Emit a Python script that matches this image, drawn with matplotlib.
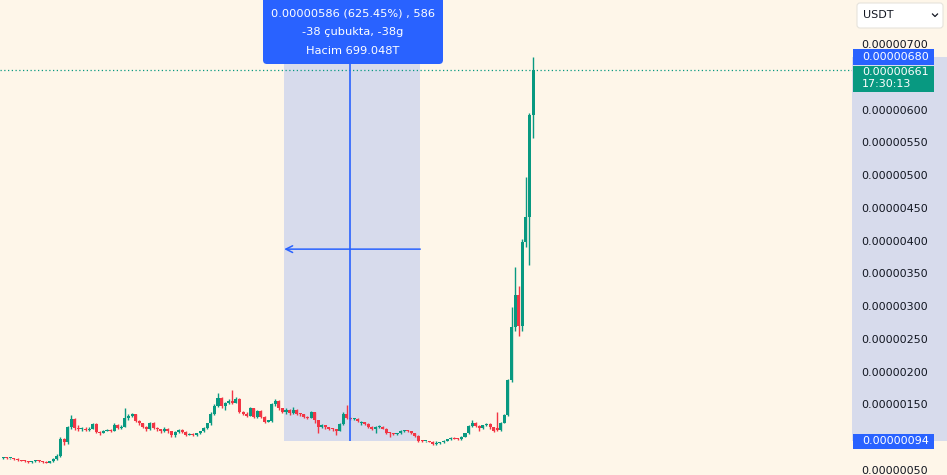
import matplotlib
matplotlib.use("Agg")
import matplotlib.pyplot as plt
from matplotlib.patches import Rectangle, FancyBboxPatch
from matplotlib.ticker import FuncFormatter
import matplotlib.transforms as mtransforms

# Prices in units of 1e-8 USDT (0.00000700 == 700)
opens = [68, 69, 68, 68, 67, 65, 64, 63, 62, 63, 64, 63, 62, 61, 63, 67, 72, 98, 93, 115,
         128, 114, 112, 113, 111, 113, 120, 108, 107, 110, 111, 110, 119, 114, 116, 129, 133, 135, 125, 121,
         116, 112, 122, 114, 112, 109, 113, 109, 103, 108, 111, 108, 104, 105, 103, 106, 109, 114, 121, 136,
         148, 160, 147, 152, 156, 153, 159, 139, 136, 133, 144, 131, 140, 131, 124, 125, 150, 156, 144, 139,
         141, 137, 141, 136, 135, 131, 130, 138, 126, 116, 118, 115, 113, 112, 110, 120, 136, 130, 128, 128,
         121, 123, 120, 116, 112, 116, 116, 113, 107, 106, 105, 106, 110, 110, 109, 106, 102, 95, 94, 94,
         93, 90, 91, 92, 95, 97, 99, 98, 97, 101, 106, 117, 122, 117, 114, 118, 120, 115, 114, 111,
         122, 134, 187, 268, 317, 270, 398, 436, 592]
closes = [69, 68, 68, 67, 65, 64, 63, 62, 63, 64, 63, 62, 61, 63, 67, 72, 98, 93, 115, 128,
          114, 112, 113, 111, 113, 120, 108, 107, 110, 111, 110, 119, 114, 116, 129, 133, 135, 125, 121, 116,
          112, 122, 114, 112, 109, 113, 109, 103, 108, 111, 108, 104, 105, 103, 106, 109, 114, 121, 136, 148,
          160, 147, 152, 156, 153, 159, 139, 136, 133, 144, 131, 140, 131, 124, 125, 150, 156, 144, 139, 141,
          137, 141, 136, 135, 131, 130, 138, 126, 116, 118, 115, 113, 112, 110, 120, 136, 130, 128, 128, 125,
          123, 120, 116, 112, 116, 116, 113, 107, 106, 105, 106, 110, 110, 109, 106, 102, 95, 94, 94, 93,
          90, 91, 92, 95, 97, 99, 98, 97, 101, 106, 117, 122, 117, 114, 118, 120, 115, 110, 111, 122,
          134, 187, 268, 317, 270, 398, 436, 592, 661]
highs = [70, 70, 69, 69, 68, 66, 65, 64, 64, 66, 65, 64, 63, 64, 68, 74, 100, 99, 117, 134,
         129, 118, 115, 116, 115, 122, 121, 110, 111, 113, 112, 121, 120, 118, 145, 135, 137, 136, 126, 122,
         117, 124, 124, 116, 113, 115, 114, 110, 109, 113, 112, 109, 107, 106, 107, 110, 116, 122, 138, 150,
         167, 161, 154, 158, 172, 161, 160, 140, 138, 146, 145, 142, 141, 132, 127, 152, 158, 157, 145, 145,
         143, 146, 143, 137, 136, 133, 140, 139, 127, 120, 119, 116, 114, 113, 121, 138, 149, 131, 130, 129,
         125, 124, 121, 117, 117, 118, 117, 114, 108, 107, 107, 111, 111, 111, 110, 107, 103, 96, 95, 95,
         94, 95, 93, 96, 98, 101, 100, 99, 102, 107, 118, 126, 123, 118, 119, 121, 121, 116, 138, 123,
         136, 189, 298, 360, 330, 402, 497, 595, 680]
lows = [67, 67, 67, 66, 64, 63, 62, 61, 61, 62, 62, 61, 60, 60, 62, 66, 70, 88, 90, 112,
        111, 110, 110, 109, 110, 112, 106, 104, 106, 109, 108, 109, 112, 113, 115, 127, 131, 123, 119, 114,
        109, 111, 112, 110, 106, 108, 107, 101, 101, 107, 106, 102, 103, 102, 102, 105, 108, 113, 119, 134,
        146, 145, 141, 150, 151, 152, 137, 134, 131, 132, 129, 130, 129, 121, 123, 124, 148, 142, 137, 136,
        134, 136, 134, 132, 129, 128, 129, 121, 106, 114, 113, 111, 110, 104, 109, 119, 128, 126, 126, 124,
        119, 118, 114, 111, 107, 114, 112, 105, 100, 104, 104, 105, 108, 108, 105, 100, 93, 92, 93, 92,
        88, 88, 90, 91, 94, 96, 97, 96, 96, 100, 105, 116, 115, 110, 113, 117, 113, 108, 109, 110,
        121, 133, 185, 262, 255, 262, 390, 363, 557]

y_ticks = [50, 150, 200, 250, 300, 350, 400, 450, 500, 550, 600, 700]
measure_start, measure_end = 78.5, 116.5
measure_low, measure_high = 94, 680
crosshair_bar = 97
last_price = 661
tooltip_lines = ["0.00000586 (625.45%) , 586", "-38 çubukta, -38g", "Hacim 699.048T"]
countdown = "17:30:13"
currency = "USDT"

BG = "#fef6e9"
GREEN = "#089981"
RED = "#f23645"
BLUE = "#2962ff"
TXT = "#131722"
FS = 8

plt.rcParams['font.family'] = ['DejaVu Sans']

fig = plt.figure(figsize=(9.47, 4.75), dpi=100, facecolor=BG)
ax = fig.add_axes([0, 0, 852 / 947, 1])
ax.set_facecolor(BG)
for s in ax.spines.values():
    s.set_visible(False)

ax.set_xlim(-0.894, 237.1)
ax.set_ylim(42.4, 767.1)
ax.set_xticks([])
ax.yaxis.tick_right()
ax.set_yticks(y_ticks)
ax.yaxis.set_major_formatter(FuncFormatter(lambda v, p: f"{v * 1e-8:.8f}"))
ax.tick_params(axis='y', length=0, pad=7.0, labelsize=FS, labelcolor=TXT)

# measurement rectangle
ax.add_patch(Rectangle((measure_start, measure_low), measure_end - measure_start,
                       measure_high - measure_low, facecolor=BLUE, alpha=0.18,
                       edgecolor='none', zorder=1))
blend = mtransforms.blended_transform_factory(ax.transAxes, ax.transData)
ax.add_patch(Rectangle((1.0, measure_low), 947 / 852 - 1.0, measure_high - measure_low,
                       transform=blend, facecolor=BLUE, alpha=0.18, edgecolor='none',
                       clip_on=False, zorder=1))

# candles
for i, (o, h, l, c) in enumerate(zip(opens, highs, lows, closes)):
    col = GREEN if c >= o else RED
    ax.vlines(i, l, h, color=col, lw=1.0, zorder=3)
    body = max(abs(c - o), 1.6)
    ax.bar(i, body, bottom=min(o, c), width=0.85, color=col, edgecolor='none', zorder=3)

# crosshair & arrow
ax.vlines(crosshair_bar, measure_low, measure_high, color=BLUE, lw=1.2, zorder=4)
mid = (measure_low + measure_high) / 2
ax.annotate('', xy=(measure_start, mid), xytext=(measure_end, mid),
            arrowprops=dict(arrowstyle='->', color=BLUE, lw=1.1, shrinkA=0, shrinkB=0,
                            mutation_scale=12), zorder=4)

# last price dotted line
ax.axhline(last_price, color=GREEN, lw=0.9, ls=(0, (1, 2)), zorder=2)

# price-scale labels
px = 1.5258  # data units per pixel
box_x0, box_x1 = 1.001, 934 / 852
ax.add_patch(Rectangle((box_x0, measure_high - 8 * px), box_x1 - box_x0, 16 * px,
                       transform=blend, facecolor=BLUE, edgecolor='none', clip_on=False, zorder=5))
ax.add_patch(Rectangle((box_x0, last_price - 22 * px), box_x1 - box_x0, 26 * px,
                       transform=blend, facecolor=GREEN, edgecolor='none', clip_on=False, zorder=5))
ax.add_patch(Rectangle((box_x0, measure_low - 8 * px), box_x1 - box_x0, 15.5 * px,
                       transform=blend, facecolor=BLUE, edgecolor='none', clip_on=False, zorder=5))
tx = 1.0 + 10 / 852
ax.text(tx, measure_high, f"{measure_high * 1e-8:.8f}", transform=blend, color='white',
        fontsize=FS, va='center', ha='left', clip_on=False, zorder=6)
ax.text(tx, last_price - 2 * px, f"{last_price * 1e-8:.8f}", transform=blend, color='white',
        fontsize=FS, va='center', ha='left', clip_on=False, zorder=6)
ax.text(tx, last_price - 14.5 * px, countdown, transform=blend, color='white',
        fontsize=FS, va='center', ha='left', clip_on=False, zorder=6)
ax.text(tx, measure_low, f"{measure_low * 1e-8:.8f}", transform=blend, color='white',
        fontsize=FS, va='center', ha='left', clip_on=False, zorder=6)

# UI overlay in pixel coords
ui = fig.add_axes([0, 0, 1, 1])
ui.set_xlim(0, 947)
ui.set_ylim(475, 0)
ui.axis('off')
ui.set_zorder(10)

ui.add_patch(FancyBboxPatch((263, -10), 180, 74, boxstyle='round,pad=0,rounding_size=4',
                            facecolor=BLUE, edgecolor='none'))
for k, line in enumerate(tooltip_lines):
    ui.text(353, 13 + 19 * k, line, color='white', fontsize=8.2, ha='center', va='center')

ui.add_patch(FancyBboxPatch((857, 3), 86, 25, boxstyle='round,pad=0,rounding_size=3',
                            facecolor='white', edgecolor='#e6e3dc', lw=0.8))
ui.text(863, 15.5, currency, color=TXT, fontsize=8, ha='left', va='center')
ui.plot([932.5, 935, 937.5], [14, 16.5, 14], color=TXT, lw=0.9)

fig.savefig("out.png", dpi=100, facecolor=BG)
